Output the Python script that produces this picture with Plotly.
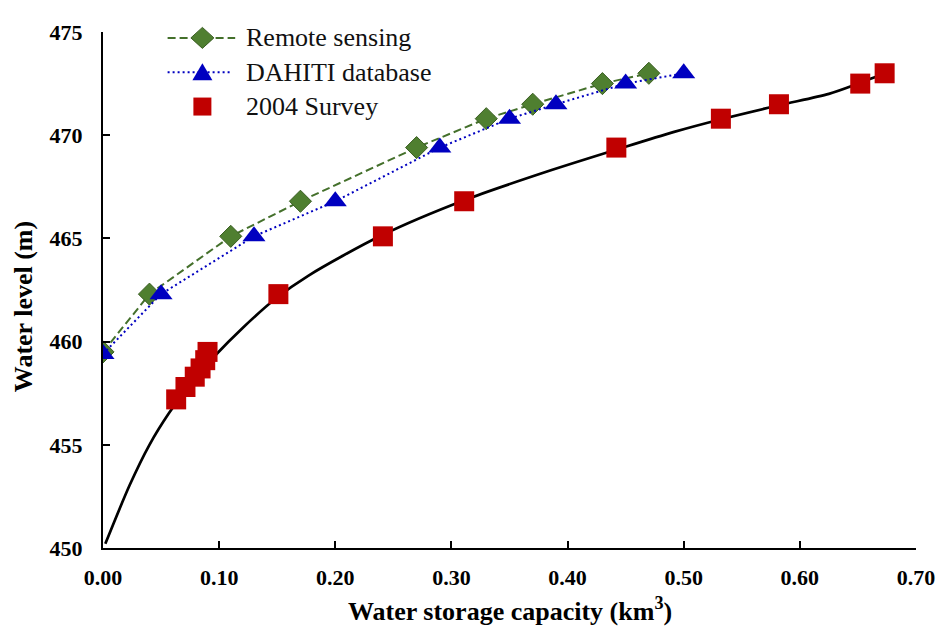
import plotly.graph_objects as go

# ---------------- data ----------------
rs_x = [0.00, 0.04, 0.11, 0.17, 0.27, 0.33, 0.37, 0.43, 0.47]
rs_y = [459.5, 462.3, 465.1, 466.8, 469.4, 470.8, 471.5, 472.5, 473.0]

dah_x = [0.00, 0.05, 0.13, 0.20, 0.29, 0.35, 0.39, 0.45, 0.50]
dah_y = [459.4, 462.3, 465.1, 466.8, 469.4, 470.8, 471.5, 472.5, 473.0]

sv_x = [0.063, 0.071, 0.079, 0.084, 0.088, 0.090, 0.151, 0.241, 0.311,
        0.442, 0.532, 0.582, 0.652, 0.673]
sv_y = [457.2, 457.8, 458.3, 458.7, 459.1, 459.5, 462.3, 465.1, 466.8,
        469.4, 470.8, 471.5, 472.5, 473.0]

fit_x = [0.002, 0.023, 0.040, 0.057, 0.074, 0.097, 0.120, 0.149, 0.177,
         0.240, 0.311, 0.383, 0.442, 0.491, 0.534, 0.582, 0.625, 0.648, 0.673]
fit_y = [450.2, 453.05, 455.0, 456.55, 457.85, 459.35, 460.65, 462.1, 463.2,
         465.15, 466.85, 468.25, 469.3, 470.15, 470.8, 471.45, 472.0, 472.45, 473.0]

x_ticks = [0.0, 0.1, 0.2, 0.3, 0.4, 0.5, 0.6, 0.7]
y_ticks = [450, 455, 460, 465, 470, 475]

legend_names = ["Remote sensing", "DAHITI database", "2004 Survey"]

# ---------------- styles ----------------
GREEN_LINE = "#44702B"
GREEN_FILL = "#4F7F30"
GREEN_EDGE = "#3A5E22"
BLUE = "#0000C0"
RED = "#C00000"
SERIF = "Liberation Serif, Times New Roman, Times, serif"
GREEN_DASH = "8px,4px"
BLUE_DOT = "2px,3px"

# page is shown with the browser's 8px body margin, so the figure is 8px smaller
OFF = 8
W, H = 947 - OFF, 627 - OFF
PLOT_L, PLOT_R, PLOT_T, PLOT_B = 103, 921, 22, 548   # plot area in page pixels
L = PLOT_L - OFF
T = PLOT_T - OFF
R = W - (PLOT_R - OFF)
B = H - (PLOT_B - OFF)
PW, PH = PLOT_R - PLOT_L, PLOT_B - PLOT_T


def px2x(px):
    return (px - PLOT_L) / PW


def py2y(py):
    return (PLOT_B - py) / PH


fig = go.Figure()

fig.add_trace(go.Scatter(
    x=fit_x, y=fit_y, mode="lines",
    line=dict(color="black", width=2.7, shape="spline", smoothing=0.8),
    showlegend=False, hoverinfo="skip"))

fig.add_trace(go.Scatter(
    x=rs_x, y=rs_y, mode="lines+markers", name=legend_names[0],
    line=dict(color=GREEN_LINE, width=2, dash=GREEN_DASH),
    marker=dict(symbol="diamond", size=17, color=GREEN_FILL,
                line=dict(color=GREEN_EDGE, width=1)),
    showlegend=False))

fig.add_trace(go.Scatter(
    x=dah_x, y=dah_y, mode="lines+markers", name=legend_names[1],
    line=dict(color=BLUE, width=2, dash=BLUE_DOT),
    marker=dict(symbol="triangle-up", size=20, color=BLUE, line=dict(width=0)),
    showlegend=False))

fig.add_trace(go.Scatter(
    x=sv_x, y=sv_y, mode="markers", name=legend_names[2],
    marker=dict(symbol="square", size=20, color=RED, line=dict(width=0)),
    showlegend=False))

# ---------------- manual legend ----------------
shapes = []
annotations = []
rows_py = [28, 63, 98]
sym_cx = 203
line_x0, line_x1 = 168, 236

shapes.append(dict(type="line", xref="paper", yref="paper",
                   x0=px2x(line_x0), x1=px2x(line_x1), y0=py2y(rows_py[0]), y1=py2y(rows_py[0]),
                   line=dict(color=GREEN_LINE, width=2, dash=GREEN_DASH)))
shapes.append(dict(type="path", xref="paper", yref="paper",
                   xsizemode="pixel", ysizemode="pixel",
                   xanchor=px2x(sym_cx), yanchor=py2y(rows_py[0]),
                   path="M -11.5,0 L 0,10.5 L 11.5,0 L 0,-10.5 Z",
                   fillcolor=GREEN_FILL, line=dict(color=GREEN_EDGE, width=1)))
shapes.append(dict(type="line", xref="paper", yref="paper",
                   x0=px2x(line_x0), x1=px2x(233), y0=py2y(rows_py[1]), y1=py2y(rows_py[1]),
                   line=dict(color=BLUE, width=2, dash=BLUE_DOT)))
shapes.append(dict(type="path", xref="paper", yref="paper",
                   xsizemode="pixel", ysizemode="pixel",
                   xanchor=px2x(sym_cx), yanchor=py2y(rows_py[1]),
                   path="M -10,-8 L 10,-8 L 0,9 Z",
                   fillcolor=BLUE, line=dict(width=0)))
shapes.append(dict(type="path", xref="paper", yref="paper",
                   xsizemode="pixel", ysizemode="pixel",
                   xanchor=px2x(sym_cx), yanchor=py2y(rows_py[2]),
                   path="M -9,-9 L 9,-9 L 9,9 L -9,9 Z",
                   fillcolor=RED, line=dict(width=0)))

for name, py in zip(legend_names, rows_py):
    annotations.append(dict(
        text=name, xref="paper", yref="paper", x=px2x(245), y=py2y(py),
        xanchor="left", yanchor="middle", showarrow=False,
        font=dict(family=SERIF, size=26, color="#111111")))

# ---------------- axis titles ----------------
annotations.append(dict(
    text="Water storage capacity (km<sup>3</sup>)", xref="paper", yref="paper",
    x=0.5, y=py2y(611), xanchor="center", yanchor="middle", showarrow=False,
    font=dict(family=SERIF, size=26, color="black", weight="bold")))
annotations.append(dict(
    text="Water level (m)", xref="paper", yref="paper", textangle=-90,
    x=px2x(23), y=py2y(302), xanchor="center", yanchor="middle", showarrow=False,
    font=dict(family=SERIF, size=26, color="black", weight="bold")))

tick_font = dict(family=SERIF, size=22, color="black", weight="bold")

fig.update_layout(
    width=W, height=H,
    margin=dict(l=L, r=R, t=T, b=B, pad=0),
    paper_bgcolor="white", plot_bgcolor="white",
    font=dict(family=SERIF, color="black"),
    showlegend=False,
    shapes=shapes, annotations=annotations,
    xaxis=dict(range=[0, 0.70], tickvals=x_ticks, tickformat=".2f",
               showgrid=False, zeroline=False, showline=True, linecolor="black", linewidth=2,
               ticks="inside", ticklen=7, tickwidth=2, tickcolor="black",
               tickfont=tick_font, ticklabelstandoff=9),
    yaxis=dict(range=[450, 475], tickvals=y_ticks,
               showgrid=False, zeroline=False, showline=True, linecolor="black", linewidth=2,
               ticks="inside", ticklen=7, tickwidth=2, tickcolor="black",
               tickfont=tick_font, ticklabelstandoff=14),
)

fig.write_html("out.html")
